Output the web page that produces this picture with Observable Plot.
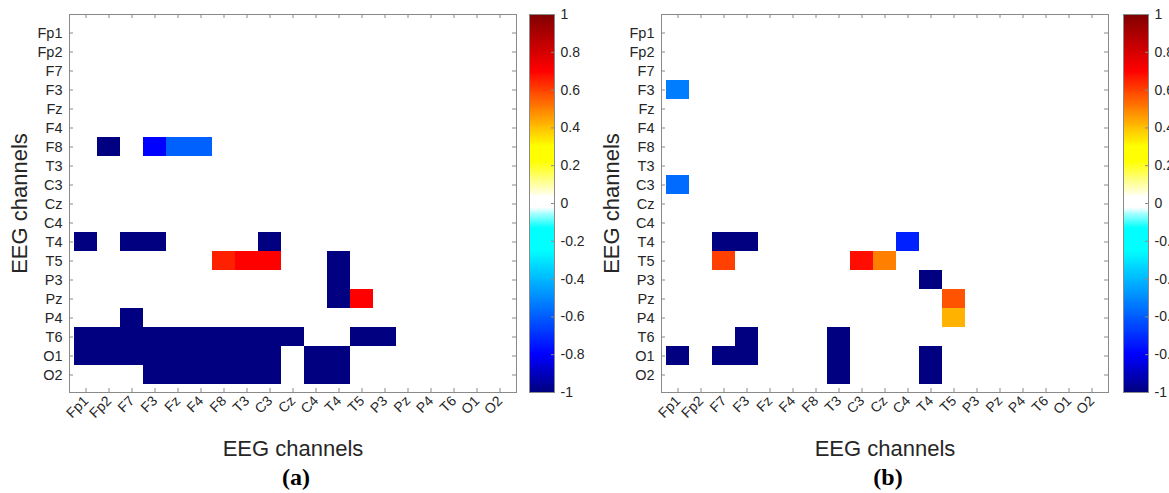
<!DOCTYPE html>
<html><head><meta charset="utf-8">
<script src="https://cdn.jsdelivr.net/npm/d3@7"></script>
<script src="https://cdn.jsdelivr.net/npm/@observablehq/plot@0.6"></script>
<style>
html,body{margin:0;padding:0;background:#fff;overflow:hidden;}
#root{position:relative;width:1169px;height:493px;overflow:hidden;}
#root svg{position:absolute;top:0;}
</style></head><body><div id="root"></div>
<script>
// EEG channel order (rows and columns)
const channels = ["Fp1","Fp2","F7","F3","Fz","F4","F8","T3","C3","Cz","C4","T4","T5","P3","Pz","P4","T6","O1","O2"];

// Panel (a): non-zero cells (row channel, column channel, value)
const rowsA = ["F8","F8","F8","F8",
  "T4","T4","T4","T4",
  "T5","T5","T5","T5",
  "P3",
  "Pz","Pz",
  "P4",
  "T6","T6","T6","T6","T6","T6","T6","T6","T6","T6","T6","T6",
  "O1","O1","O1","O1","O1","O1","O1","O1","O1","O1","O1",
  "O2","O2","O2","O2","O2","O2","O2","O2"];
const colsA = ["Fp2","F3","Fz","F4",
  "Fp1","F7","F3","C3",
  "F8","T3","C3","T4",
  "T4",
  "T4","T5",
  "F7",
  "Fp1","Fp2","F7","F3","Fz","F4","F8","T3","C3","Cz","T5","P3",
  "Fp1","Fp2","F7","F3","Fz","F4","F8","T3","C3","C4","T4",
  "F3","Fz","F4","F8","T3","C3","C4","T4"];
const valuesA = [-1,-0.8,-0.59,-0.59,
  -1,-1,-1,-1,
  0.65,0.7,0.7,-1,
  -1,
  -1,0.7,
  -1,
  -1,-1,-1,-1,-1,-1,-1,-1,-1,-1,-1,-1,
  -1,-1,-1,-1,-1,-1,-1,-1,-1,-1,-1,
  -1,-1,-1,-1,-1,-1,-1,-1];

// Panel (b)
const rowsB = ["F3","C3","T4","T4","T4","T5","T5","T5","P3","Pz","P4","T6","T6","O1","O1","O1","O1","O1","O2","O2"];
const colsB = ["Fp1","Fp1","F7","F3","C4","F7","C3","Cz","T4","T5","T5","F3","T3","Fp1","F7","F3","T3","T4","T3","T4"];
const valuesB = [-0.53,-0.57,-1,-1,-0.73,0.6,0.68,0.5,-1,0.57,0.42,-1,-1,-1,-1,-1,-1,-1,-1,-1];

// Colour bar ticks
const colorbarTicks = [-1,-0.8,-0.6,-0.4,-0.2,0,0.2,0.4,0.6,0.8,1];
const colorbarLabels = ["-1","-0.8","-0.6","-0.4","-0.2","0","0.2","0.4","0.6","0.8","1"];

// Colormap (jet with white centre)
const cmapStops = [-1,-0.8,-0.25,-0.13,-0.02,0.03,0.22,0.3,0.7,1];
const cmapColors = ["#000080","#0000ff","#00ffff","#00ffff","#ffffff","#ffffff","#ffff00","#ffff00","#ff0000","#800000"];

const colorScale = {type:"linear", domain: cmapStops, range: cmapColors, interpolate:"rgb", clamp:true};
const FONT = "'Liberation Sans', Arial, Helvetica, sans-serif";
const AXC = "#8a8a8a";
const TXT = "#262626";

function heatmap(rows, cols, vals, label) {
  const data = rows.map((r,i)=>({row:r, col:cols[i], value:vals[i]}));
  const W = 585, H = 493, mL = 69, mR = 69, mT = 14, mB = 101;
  const fw = W - mL - mR, fh = H - mT - mB;
  return Plot.plot({
    width: W, height: H, marginLeft: mL, marginRight: mR, marginTop: mT, marginBottom: mB,
    style: {fontFamily: FONT, background: "transparent", color: TXT, overflow: "visible"},
    x: {type: "band", domain: channels, padding: 0},
    y: {type: "band", domain: channels, padding: 0},
    color: colorScale,
    marks: [
      Plot.cell(data, {x: "col", y: "row", fill: "value"}),
      Plot.frame({stroke: AXC}),
      Plot.tickX(channels, {x: d => d, stroke: AXC, insetTop: fh - 4}),
      Plot.tickX(channels, {x: d => d, stroke: AXC, insetBottom: fh - 4}),
      Plot.tickY(channels, {y: d => d, stroke: AXC, insetRight: fw - 4}),
      Plot.tickY(channels, {y: d => d, stroke: AXC, insetLeft: fw - 4}),
      Plot.axisX({anchor: "bottom", tickSize: 0, tickPadding: 6, tickRotate: -45, fontSize: 14, label: null, fill: TXT}),
      Plot.axisY({anchor: "left", tickSize: 0, tickPadding: 7, fontSize: 14.5, label: null, fill: TXT}),
      Plot.text(["EEG channels"], {frameAnchor: "bottom", dy: 56, fontSize: 22, textAnchor: "middle", lineAnchor: "middle", fill: TXT}),
      Plot.text(["EEG channels"], {frameAnchor: "left", dx: -50, rotate: -90, fontSize: 22, textAnchor: "middle", lineAnchor: "middle", fill: TXT}),
      Plot.text([label], {frameAnchor: "bottom", dy: 85, dx: 3, fontSize: 24, fontWeight: "bold", fontFamily: "'Liberation Serif', 'Times New Roman', serif", textAnchor: "middle", lineAnchor: "middle", fill: "#000"})
    ]
  });
}

function colorbar() {
  const step = 0.005;
  const ramp = d3.range(-1, 1, step);
  const W = 90, H = 493, mL = 1, mT = 14, mB = 101, fw = 25;
  return Plot.plot({
    width: W, height: H, marginLeft: mL, marginRight: W - mL - fw, marginTop: mT, marginBottom: mB,
    style: {fontFamily: FONT, background: "transparent", color: TXT, overflow: "visible"},
    x: {domain: [0, 1], axis: null},
    y: {domain: [-1, 1]},
    color: colorScale,
    marks: [
      Plot.rect(ramp, {x1: 0, x2: 1, y1: d => d, y2: d => Math.min(1, d + step * 1.6), fill: d => d + step / 2, shapeRendering: "crispEdges"}),
      Plot.frame({stroke: AXC}),
      Plot.tickY(colorbarTicks, {y: d => d, stroke: AXC, insetLeft: fw - 3}),
      Plot.axisY(colorbarTicks, {anchor: "right", tickSize: 0, tickPadding: 6, fontSize: 14, label: null, fill: TXT,
        tickFormat: d => colorbarLabels[colorbarTicks.indexOf(d)]})
    ]
  });
}

const root = document.getElementById("root");
const pa = heatmap(rowsA, colsA, valuesA, "(a)");
pa.style.left = "0px";
const ca = colorbar();
ca.style.left = "528px";
const pb = heatmap(rowsB, colsB, valuesB, "(b)");
pb.style.left = "592px";
const cb = colorbar();
cb.style.left = "1122px";
root.append(pa, ca, pb, cb);
</script>
</body></html>
